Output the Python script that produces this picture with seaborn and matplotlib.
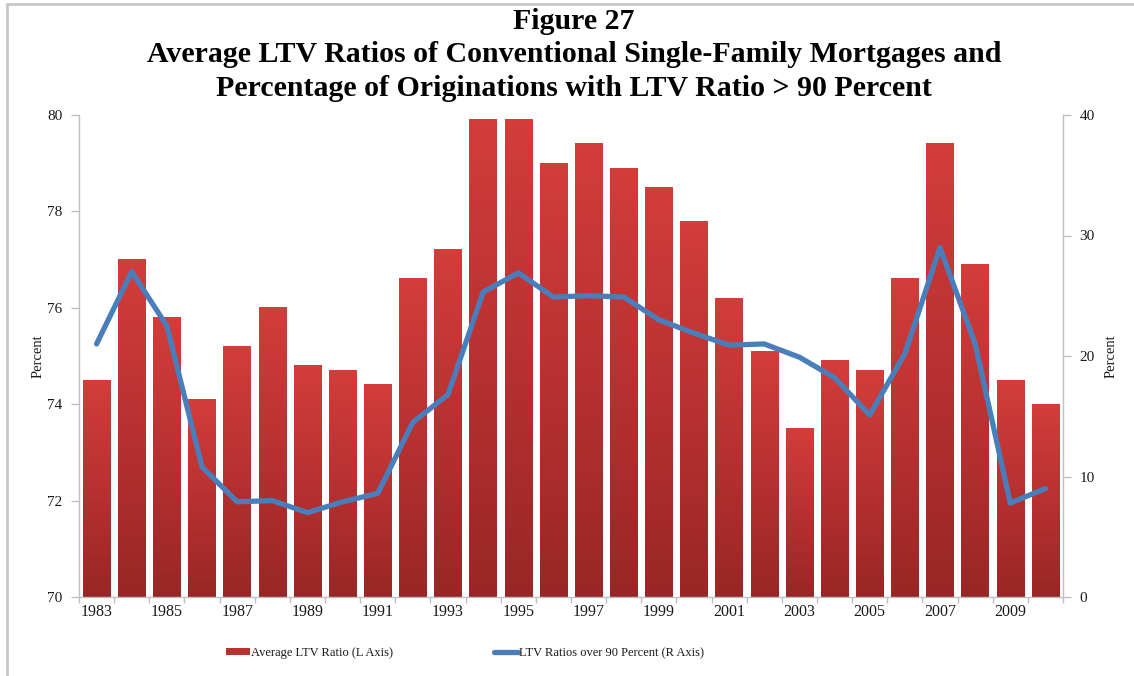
import numpy as np
import pandas as pd
import matplotlib
matplotlib.use("Agg")
import matplotlib.pyplot as plt
from matplotlib.colors import LinearSegmentedColormap
from matplotlib.lines import Line2D
from matplotlib.patches import Patch
import seaborn as sns

# ---------------- data ----------------
years = list(range(1983, 2011))
avg_ltv = [74.5, 77.0, 75.8, 74.1, 75.2, 76.0, 74.8, 74.7, 74.4, 76.6,
           77.2, 79.9, 79.9, 79.0, 79.4, 78.9, 78.5, 77.8, 76.2, 75.1,
           73.5, 74.9, 74.7, 76.6, 79.4, 76.9, 74.5, 74.0]
pct_over_90 = [21.0, 27.0, 22.5, 10.8, 7.9, 8.0, 7.0, 7.9, 8.6, 14.5,
               16.8, 25.3, 26.9, 24.9, 25.0, 24.9, 23.0, 21.9, 20.9, 21.0,
               19.9, 18.2, 15.1, 20.2, 29.0, 21.0, 7.8, 9.0]
left_ticks = [70, 72, 74, 76, 78, 80]
right_ticks = [0, 10, 20, 30, 40]
label_years = list(range(1983, 2011, 2))
title_lines = ["Figure 27",
               "Average LTV Ratios of Conventional Single-Family Mortgages and",
               "Percentage of Originations with LTV Ratio > 90 Percent"]
legend_labels = ["Average LTV Ratio (L Axis)", "LTV Ratios over 90 Percent (R Axis)"]
axis_label = "Percent"

df = pd.DataFrame({"year": years, "ltv": avg_ltv, "over90": pct_over_90})

# ---------------- style ----------------
sns.set_theme(style="white")
plt.rcParams["font.family"] = ["Liberation Serif", "DejaVu Serif"]

RED_TOP = "#D33D3A"
RED_BOT = "#992626"
BLUE = "#4A7EBB"
GRID = "#BFBFBF"
TXT = "#1a1a1a"

fig = plt.figure(figsize=(11.34, 6.76), dpi=100)
ax = fig.add_axes([79 / 1134, 1 - 597 / 676, (1063 - 79) / 1134, (597 - 115) / 676])

sns.barplot(data=df, x="year", y="ltv", native_scale=True, width=0.78,
            color=RED_BOT, edgecolor="none", ax=ax, zorder=2)

YMIN, YMAX = 70, 80
ax.set_ylim(YMIN, YMAX)
ax.set_xlim(1982.5, 2010.5)

# vertical gradient on each bar (drawn inside the visible part of the bar)
cmap = LinearSegmentedColormap.from_list("redgrad", [RED_BOT, "#B83131", RED_TOP])
grad = np.linspace(0, 1, 256).reshape(-1, 1)
for bar in list(ax.patches):
    x0 = bar.get_x()
    w = bar.get_width()
    top = bar.get_y() + bar.get_height()
    ax.imshow(grad, cmap=cmap, origin="lower", aspect="auto",
              extent=(x0, x0 + w, YMIN, top), zorder=2.5)
ax.set_ylim(YMIN, YMAX)
ax.set_xlim(1982.5, 2010.5)

ax2 = ax.twinx()
sns.lineplot(data=df, x="year", y="over90", color=BLUE, linewidth=3.8,
             ax=ax2, legend=False, solid_capstyle="round", solid_joinstyle="round")
ax2.set_ylim(0, 40)
ax2.set_xlim(1982.5, 2010.5)

# ticks
ax.set_yticks(left_ticks)
ax.set_yticklabels([str(t) for t in left_ticks])
ax2.set_yticks(right_ticks)
ax2.set_yticklabels([str(t) for t in right_ticks])
ax.set_xticks(label_years)
ax.set_xticklabels([str(y) for y in label_years])
ax.set_xticks(np.arange(1982.5, 2011, 1.0), minor=True)
ax.tick_params(axis="x", which="major", length=0, labelsize=11.5, colors=TXT, pad=5)
ax.tick_params(axis="x", which="minor", length=4, color=GRID, width=1, direction="out", bottom=True)
ax.tick_params(axis="y", length=6, color=GRID, width=1, direction="out", labelsize=11, colors=TXT, pad=6, left=True)
ax2.tick_params(axis="y", length=6, color=GRID, width=1, direction="out", labelsize=11, colors=TXT, pad=6, right=True)

for a in (ax, ax2):
    for s in a.spines.values():
        s.set_visible(False)
ax.spines["left"].set_visible(True)
ax.spines["bottom"].set_visible(True)
ax2.spines["right"].set_visible(True)
for s in (ax.spines["left"], ax.spines["bottom"], ax2.spines["right"]):
    s.set_color(GRID)
    s.set_linewidth(1)

ax.set_xlabel("")
ax.set_ylabel(axis_label, fontsize=10.5, color=TXT, labelpad=2)
ax2.set_ylabel(axis_label, fontsize=10.5, color=TXT, labelpad=7)
ax.grid(False)
ax2.grid(False)

# title
fig.text(574 / 1134, 1 - 8 / 676, "\n".join(title_lines), ha="center", va="top",
         fontsize=21.5, fontweight="bold", color="black", linespacing=1.3)

# legend
handles = [Patch(facecolor="#B83030", edgecolor="none"),
           Line2D([0], [0], color=BLUE, linewidth=3.8, solid_capstyle="round")]
fig.legend(handles, legend_labels, loc="center", bbox_to_anchor=(465 / 1134, 1 - 653 / 676),
           ncol=2, frameon=False, fontsize=9, handlelength=1.9, handleheight=0.45,
           handletextpad=0.1, columnspacing=8.1, labelcolor=TXT)

# figure frame lines (top and left)
fig.add_artist(Line2D([7 / 1134, 1], [1 - 4 / 676, 1 - 4 / 676], transform=fig.transFigure,
                      color="#C8C8C8", linewidth=2))
fig.add_artist(Line2D([7 / 1134, 7 / 1134], [0, 1 - 4 / 676], transform=fig.transFigure,
                      color="#C8C8C8", linewidth=2))

fig.savefig("out.png", dpi=100)
